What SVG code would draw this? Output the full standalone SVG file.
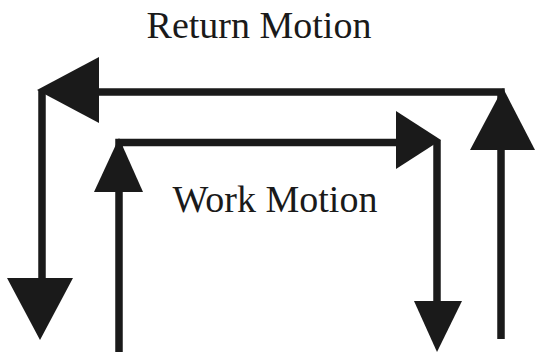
<svg xmlns="http://www.w3.org/2000/svg" width="535" height="352" viewBox="0 0 535 352">
<style>
.ln{stroke:#1a1a1a;stroke-width:7.5;fill:none;stroke-linecap:butt;stroke-linejoin:miter}
.hd{fill:#1a1a1a;stroke:none}
.lbl{font-family:"Liberation Serif","Times New Roman",serif;font-size:38px;fill:#1a1a1a;text-anchor:middle}
</style>
<rect width="535" height="352" fill="#fff"/>
<g id="return-motion">
<polyline class="ln" points="501,339 501,92 95,92"/>
<polyline class="ln" points="42,90 42,280"/>
<polygon class="hd" points="503,88 470,150 535,150"/>
<polygon class="hd" points="37,90 99,57 99,123"/>
<polygon class="hd" points="7,278 73,278 40,340"/>
<text class="lbl" x="259" y="38">Return Motion</text>
</g>
<g id="work-motion">
<polyline class="ln" points="119,352 119,142.5 400,142.5"/>
<polyline class="ln" points="437,140 437,303"/>
<polygon class="hd" points="119,138 94,192 143,192"/>
<polygon class="hd" points="441,140 396,111 396,169"/>
<polygon class="hd" points="414,301 462,301 437,352"/>
<text class="lbl" x="275" y="212">Work Motion</text>
</g>
</svg>
